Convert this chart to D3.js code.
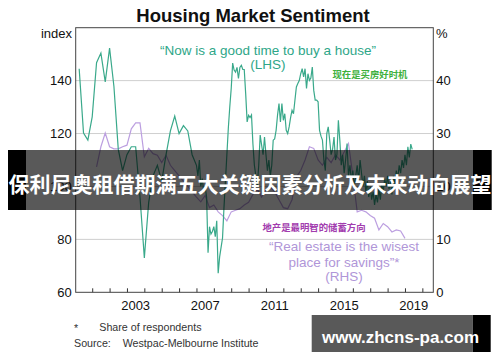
<!DOCTYPE html>
<html><head><meta charset="utf-8">
<script src="https://cdn.jsdelivr.net/npm/d3@7"></script>
<style>body{margin:0;background:#fff}svg{display:block}</style>
</head><body>
<svg id="c" width="500" height="362"></svg>
<script>
// ---- data ----
const greenDates = [
"2000-04","2000-07","2000-10","2001-01","2001-04","2001-07","2001-10","2002-01","2002-04","2002-07","2002-10",
"2003-01","2003-04","2003-07","2003-10","2004-01","2004-04","2004-07","2004-10","2005-01","2005-04","2005-07","2005-10",
"2006-01","2006-04","2006-07","2006-10",
"2007-01","2007-02","2007-03","2007-04","2007-05","2007-06","2007-07","2007-08","2007-09","2007-10","2007-11","2007-12",
"2008-01","2008-02","2008-03","2008-04","2008-05","2008-06","2008-07","2008-08","2008-09","2008-10","2008-11","2008-12",
"2009-01","2009-02","2009-03","2009-04","2009-05","2009-06","2009-07","2009-08","2009-09","2009-10","2009-11","2009-12",
"2010-01","2010-02","2010-03","2010-04","2010-05","2010-06","2010-07","2010-08","2010-09","2010-10","2010-11","2010-12",
"2011-01","2011-02","2011-03","2011-04","2011-05","2011-06","2011-07","2011-08","2011-09","2011-10","2011-11","2011-12",
"2012-01","2012-02","2012-03","2012-04","2012-05","2012-06","2012-07","2012-08","2012-09","2012-10","2012-11","2012-12",
"2013-01","2013-02","2013-03","2013-04","2013-05","2013-06","2013-07","2013-08","2013-09","2013-10","2013-11","2013-12",
"2014-01","2014-02","2014-03","2014-04","2014-05","2014-06","2014-07","2014-08","2014-09","2014-10","2014-11","2014-12",
"2015-01","2015-02","2015-03","2015-04","2015-05","2015-06","2015-07","2015-08","2015-09","2015-10","2015-11","2015-12",
"2016-01","2016-02","2016-03","2016-04","2016-05","2016-06","2016-07","2016-08","2016-09","2016-10","2016-11","2016-12",
"2017-01","2017-02","2017-03","2017-04","2017-05","2017-06","2017-07","2017-08","2017-09","2017-10","2017-11","2017-12",
"2018-01","2018-02","2018-03","2018-04","2018-05","2018-06","2018-07","2018-08","2018-09","2018-10","2018-11","2018-12",
"2019-01","2019-02","2019-03","2019-04","2019-05","2019-06"];
const greenValues = [
144.5,120.2,117.5,126.3,146.8,150.4,139.5,152.3,137.8,114,106,
112,115,115,96,73,94,104,108,102,112,121,126.6,
120,123,121,112,
108,104,110,100,103,98,100,96,75,84.8,82,83,
84.8,81,87,67.2,73.4,77,80.5,92,102,112,122,130,
137,146.6,144,143.2,145,140.8,145,145.8,144.2,144.2,135,124.4,
126.9,126,127,116,108,104,100,108,119.4,115.6,112,118.7,
112,106,110,104,108,117.5,118,121.2,127,131.3,124.4,131.3,
125,127.5,121.2,120,122.5,126,128.8,127.5,132.6,137.6,138.9,140,
142.6,144.5,141.4,144.5,137,142.6,140.1,141,145.1,136.3,132.6,132.6,
132,121.2,119,117.5,110,106,120,122.5,117.5,112,114,118.7,
110,112,125,117.5,108,112,105,110,116.2,104,108,102,
106,100,104,108,102,110,105,100,104,98,102,96,
100,95,98,93,97,94,99,95,101,98,103,100,
104,99,102,97,104,101,106,103,108,105,110,107,
112,108,115,111,116,114];

const purpleDates = [
"2001-04","2001-07","2001-10","2002-01","2002-04","2002-07","2002-10","2003-01","2003-04","2003-07","2003-10",
"2004-01","2004-04","2004-07","2004-10","2005-01","2005-04","2005-07","2005-10","2006-01","2006-04","2006-07","2006-10",
"2007-01","2007-04","2007-07","2007-10","2008-01","2008-04","2008-07","2008-10","2009-01","2009-04","2009-07","2009-10",
"2010-01","2010-04","2010-07","2010-10","2011-01","2011-04","2011-07","2011-10","2012-01","2012-04","2012-07","2012-10",
"2013-01","2013-04","2013-07","2013-10","2014-01","2014-04","2014-07","2014-10","2015-01","2015-04","2015-07","2015-10",
"2016-01","2016-04","2016-07","2016-10","2017-01","2017-04","2017-07","2017-10","2018-01","2018-04","2018-07","2018-10","2019-01"];
const purpleValues = [
23.7,27.5,30.1,27.5,27.1,27.1,27.5,27.8,30.9,32.0,32.0,
25.6,27.2,26.2,25.9,24.5,25.9,24,23,22,21,20,19,
18,17.1,18.3,16,16.5,15.2,14.5,13.5,15.2,15.5,15.8,16.5,
17,18.5,19.5,18,19.5,19.9,19,17.5,16,15.8,17.5,21.8,
23,25,27.5,27.2,25,24,25.5,24.5,26,25,26.5,28.1,
22,15.2,15.5,15.2,14.5,14,11.8,13,12.4,11.4,11.8,11.6,10.2];

const leftTicks = [60, 80, 100, 120, 140];
const rightTicks = [0, 10, 20, 30, 40];
const yearTicks = d3.range(2001, 2021);
const yearLabels = [2003, 2007, 2011, 2015, 2019];

// ---- layout ----
const L = 75.7, R = 433.3, T = 27.7, B = 292.3;
const svg = d3.select("#c");
const toYear = s => { const [y, m] = s.split("-").map(Number); return y + (m - 1) / 12; };
const x = d3.scaleLinear().domain([2000.05, 2020.63]).range([L, R]);
const yL = d3.scaleLinear().domain([60, 160]).range([B, T]);
const yR = d3.scaleLinear().domain([0, 50]).range([B, T]);
const font = "Liberation Sans, Arial, sans-serif";

// gridlines
svg.append("g").selectAll("line").data(leftTicks.filter(d => d > 60)).join("line")
  .attr("x1", L).attr("x2", R).attr("y1", d => yL(d)).attr("y2", d => yL(d))
  .attr("stroke", "#cfcfcf").attr("stroke-width", 1);

// left axis labels
const gl = svg.append("g").attr("transform", `translate(${L},0)`)
  .call(d3.axisLeft(yL).tickValues(leftTicks).tickSize(0).tickPadding(4));
gl.select(".domain").remove();
gl.selectAll("text").attr("font-family", font).attr("font-size", 13).attr("fill", "#111");

const gr = svg.append("g").attr("transform", `translate(${R},0)`)
  .call(d3.axisRight(yR).tickValues(rightTicks).tickSize(0).tickPadding(3));
gr.select(".domain").remove();
gr.selectAll("text").attr("font-family", font).attr("font-size", 13).attr("fill", "#111");

// bottom ticks (inside) and labels
const gb = svg.append("g").attr("transform", `translate(0,${B})`)
  .call(d3.axisBottom(x).tickValues(yearTicks).tickSize(-4).tickFormat(""));
gb.select(".domain").remove();
gb.selectAll("line").attr("stroke", "#333");
svg.append("g").selectAll("text").data(yearLabels).join("text")
  .attr("x", d => x(d + 0.5)).attr("y", 310).attr("text-anchor", "middle")
  .attr("font-family", font).attr("font-size", 13).attr("fill", "#111").text(d => d);

// lines
const lineL = d3.line().x(d => x(d[0])).y(d => yL(d[1]));
const lineR = d3.line().x(d => x(d[0])).y(d => yR(d[1]));
svg.append("path").datum(purpleDates.map((d, i) => [toYear(d), purpleValues[i]]))
  .attr("d", lineR).attr("fill", "none").attr("stroke", "#bc9fe0").attr("stroke-width", 1.2);
svg.append("path").datum(greenDates.map((d, i) => [toYear(d), greenValues[i]]))
  .attr("d", lineL).attr("fill", "none").attr("stroke", "#3aa98b").attr("stroke-width", 1.2);

// frame
svg.append("rect").attr("x", L).attr("y", T).attr("width", R - L).attr("height", B - T)
  .attr("fill", "none").attr("stroke", "#444").attr("stroke-width", 1);

// titles and units
svg.append("text").attr("x", 253).attr("y", 22).attr("text-anchor", "middle")
  .attr("font-family", font).attr("font-weight", "bold").attr("font-size", 18.5).attr("fill", "#111")
  .text("Housing Market Sentiment");
svg.append("text").attr("x", 72).attr("y", 38).attr("text-anchor", "end")
  .attr("font-family", font).attr("font-size", 13).attr("fill", "#111").text("index");
svg.append("text").attr("x", 436).attr("y", 38)
  .attr("font-family", font).attr("font-size", 13).attr("fill", "#111").text("%");

// annotations
const green = "#2ea688", lav = "#b096d8";
svg.append("text").attr("x", 268).attr("y", 55).attr("text-anchor", "middle")
  .attr("font-family", font).attr("font-size", 13.5).attr("fill", green)
  .text("\u201CNow is a good time to buy a house\u201D");
svg.append("text").attr("x", 268).attr("y", 68.5).attr("text-anchor", "middle")
  .attr("font-family", font).attr("font-size", 13.5).attr("fill", green).text("(LHS)");
svg.append("text").attr("x", 370).attr("y", 78).attr("text-anchor", "middle")
  .attr("font-family", "Noto Sans CJK SC, sans-serif").attr("font-weight", "bold").attr("font-size", 9.4)
  .attr("fill", "#3db03d").text("现在是买房好时机");
svg.append("text").attr("x", 314).attr("y", 231).attr("text-anchor", "middle")
  .attr("font-family", "Noto Sans CJK SC, sans-serif").attr("font-weight", "bold").attr("font-size", 9.4)
  .attr("fill", "#a23cae").text("地产是最明智的储蓄方向");
[["\u201CReal estate is the wisest", 250.5], ["place for savings\u201D*", 266.5], ["(RHS)", 280.5]].forEach(([t, yy]) => {
  svg.append("text").attr("x", 344).attr("y", yy).attr("text-anchor", "middle")
    .attr("font-family", font).attr("font-size", 13.5).attr("fill", lav).text(t);
});

// footnotes
const foot = (t, xx, yy) => svg.append("text").attr("x", xx).attr("y", yy)
  .attr("font-family", font).attr("font-size", 10.7).attr("fill", "#333").text(t);
foot("*", 74, 332); foot("Share of respondents", 99.3, 330.5);
foot("Source:", 74, 346.5); foot("Westpac-Melbourne Institute", 122.7, 346.5);

// overlay banner
svg.append("rect").attr("x", 8).attr("y", 150).attr("width", 18).attr("height", 60).attr("fill", "#000");
svg.append("rect").attr("x", 473).attr("y", 150).attr("width", 18.7).attr("height", 60).attr("fill", "#000");
svg.append("rect").attr("x", 26).attr("y", 150).attr("width", 447).attr("height", 60).attr("fill", "rgba(0,0,0,0.65)");
svg.append("text").attr("x", 250).attr("y", 192).attr("text-anchor", "middle")
  .attr("font-family", "Noto Sans CJK SC, sans-serif").attr("font-weight", "bold").attr("font-size", 21)
  .attr("fill", "#fff").text("保利尼奥租借期满五大关键因素分析及未来动向展望");

svg.append("rect").attr("x", 311.7).attr("y", 315).attr("width", 161).attr("height", 37).attr("fill", "rgba(0,0,0,0.65)");
svg.append("rect").attr("x", 472.7).attr("y", 315).attr("width", 18).attr("height", 37).attr("fill", "#000");
svg.append("text").attr("x", 400.5).attr("y", 343).attr("text-anchor", "middle")
  .attr("font-family", font).attr("font-weight", "bold").attr("font-size", 17)
  .attr("fill", "#fff").text("www.zhcns-pa.com");
</script>
</body></html>
